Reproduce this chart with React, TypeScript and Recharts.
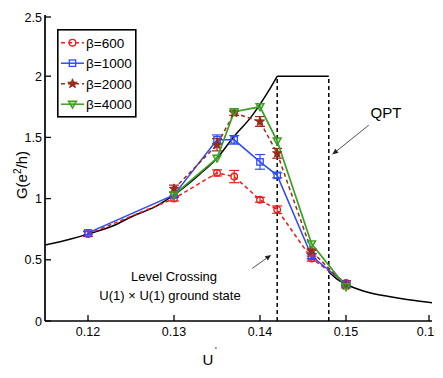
import React from 'react';
import {
  ComposedChart,
  Line,
  XAxis,
  YAxis,
  ErrorBar,
  ReferenceLine,
  Legend,
  Customized,
} from 'recharts';

// ---- data ----
const U_600 = [0.12, 0.13, 0.135, 0.137, 0.14, 0.142, 0.146, 0.15];
const G_600 = [0.71, 1.0, 1.21, 1.18, 0.99, 0.91, 0.51, 0.31];
const E_600 = [0.02, 0.02, 0.025, 0.05, 0.02, 0.03, 0.02, 0.02];

const U_1000 = [0.12, 0.13, 0.135, 0.137, 0.14, 0.142, 0.146, 0.15];
const G_1000 = [0.72, 1.03, 1.48, 1.48, 1.3, 1.19, 0.53, 0.3];
const E_1000 = [0.015, 0.02, 0.04, 0.035, 0.06, 0.02, 0.02, 0.02];

const U_2000 = [0.13, 0.135, 0.137, 0.14, 0.142, 0.146, 0.15];
const G_2000 = [1.08, 1.44, 1.7, 1.63, 1.37, 0.57, 0.29];
const E_2000 = [0.03, 0.05, 0.02, 0.04, 0.04, 0.02, 0.02];

const U_4000 = [0.13, 0.135, 0.137, 0.14, 0.142, 0.146, 0.15];
const G_4000 = [1.03, 1.33, 1.71, 1.75, 1.47, 0.63, 0.28];

const U_THEORY_L = [0.115, 0.118, 0.12, 0.123, 0.125, 0.128, 0.13, 0.133, 0.135, 0.137, 0.139, 0.14, 0.141, 0.142];
const G_THEORY_L = [0.62, 0.67, 0.71, 0.78, 0.85, 0.94, 1.03, 1.2, 1.33, 1.51, 1.67, 1.77, 1.88, 2.0];
const U_PLATEAU = [0.142, 0.148];
const G_PLATEAU = [2.0, 2.0];
const U_THEORY_R = [0.148, 0.149, 0.15, 0.152, 0.154, 0.156, 0.158, 0.16];
const G_THEORY_R = [0.4, 0.34, 0.3, 0.245, 0.212, 0.188, 0.167, 0.15];

const X_TICKS = [0.12, 0.13, 0.14, 0.15, 0.16];
const Y_TICKS = [0, 0.5, 1, 1.5, 2, 2.5];
const CROSSINGS = [0.142, 0.148];

const LEGEND_LABELS = ['β=600', 'β=1000', 'β=2000', 'β=4000'];

const toData = (u: number[], g: number[], e?: number[]) =>
  u.map((x, i) => ({ u: x, g: g[i], e: e ? e[i] : 0 }));

const d600 = toData(U_600, G_600, E_600);
const d1000 = toData(U_1000, G_1000, E_1000);
const d2000 = toData(U_2000, G_2000, E_2000);
const d4000 = toData(U_4000, G_4000);
const dTL = toData(U_THEORY_L, G_THEORY_L);
const dPl = toData(U_PLATEAU, G_PLATEAU);
const dTR = toData(U_THEORY_R, G_THEORY_R);

const FONT = '"Liberation Sans", Arial, Helvetica, sans-serif';
const RED = '#f21a1a';
const BLUE = '#2f4cf5';
const BROWN = '#9a2a1a';
const GREEN = '#3aa023';

// ---- markers ----
const circleMark = (cx: number, cy: number, c: string, k?: any) => (
  <circle key={k} cx={cx} cy={cy} r={3.3} fill="none" stroke={c} strokeWidth={1.3} />
);
const squareMark = (cx: number, cy: number, c: string, k?: any) => (
  <rect key={k} x={cx - 3.2} y={cy - 3.2} width={6.4} height={6.4} fill="none" stroke={c} strokeWidth={1.3} />
);
const starPts = (cx: number, cy: number, R: number, r: number) => {
  const pts: string[] = [];
  for (let i = 0; i < 10; i++) {
    const a = -Math.PI / 2 + (i * Math.PI) / 5;
    const rad = i % 2 === 0 ? R : r;
    pts.push(`${cx + rad * Math.cos(a)},${cy + rad * Math.sin(a)}`);
  }
  return pts.join(' ');
};
const starMark = (cx: number, cy: number, c: string, k?: any) => (
  <polygon key={k} points={starPts(cx, cy, 5, 2.2)} fill={c} stroke={c} strokeWidth={0.8} />
);
const triMark = (cx: number, cy: number, c: string, k?: any) => (
  <polygon
    key={k}
    points={`${cx - 4},${cy - 3} ${cx + 4},${cy - 3} ${cx},${cy + 4}`}
    fill={c}
    fillOpacity={0.35}
    stroke={c}
    strokeWidth={1.4}
  />
);

const dotFn = (mark: any, c: string) => (p: any) => {
  if (p.cx == null || p.cy == null) return <g key={p.index} />;
  return mark(p.cx, p.cy, c, p.index);
};

// ---- ticks ----
const TICK = 6;
const BottomTick = (p: any) => (
  <g>
    <line x1={p.x} y1={p.y} x2={p.x} y2={p.y - TICK} stroke="#000" strokeWidth={1.3} />
    <text x={p.x} y={p.y + 15} textAnchor="middle" fontSize={12.5} fontFamily={FONT} fill="#000">
      {String(p.payload.value)}
    </text>
  </g>
);
const TopTick = (p: any) => (
  <line x1={p.x} y1={p.y} x2={p.x} y2={p.y + TICK} stroke="#000" strokeWidth={1.3} />
);
const LeftTick = (p: any) => (
  <g>
    <line x1={p.x} y1={p.y} x2={p.x + TICK} y2={p.y} stroke="#000" strokeWidth={1.3} />
    <text x={p.x - 3} y={p.y + 4.5} textAnchor="end" fontSize={12.5} fontFamily={FONT} fill="#000">
      {String(p.payload.value)}
    </text>
  </g>
);
const RightTick = (p: any) => (
  <line x1={p.x} y1={p.y} x2={p.x - TICK} y2={p.y} stroke="#000" strokeWidth={1.3} />
);

// ---- arrow shape for annotation segments ----
const ArrowShape = (p: any) => {
  const { x1, y1, x2, y2 } = p;
  const a = Math.atan2(y2 - y1, x2 - x1);
  const L = 6;
  const W = 2.6;
  const bx = x2 - L * Math.cos(a);
  const by = y2 - L * Math.sin(a);
  const px = -Math.sin(a) * W;
  const py = Math.cos(a) * W;
  return (
    <g>
      <line x1={x1} y1={y1} x2={bx} y2={by} stroke="#222" strokeWidth={0.8} />
      <polygon points={`${x2},${y2} ${bx + px},${by + py} ${bx - px},${by - py}`} fill="#222" />
    </g>
  );
};

// ---- legend ----
const legendItems = [
  { label: LEGEND_LABELS[0], color: RED, dash: '4 3', mark: circleMark },
  { label: LEGEND_LABELS[1], color: BLUE, dash: undefined, mark: squareMark },
  { label: LEGEND_LABELS[2], color: BROWN, dash: '4 3', mark: starMark },
  { label: LEGEND_LABELS[3], color: GREEN, dash: undefined, mark: triMark },
];

const LegendBox = () => (
  <svg width={80} height={89} style={{ display: 'block' }}>
    <rect x={0.8} y={0.8} width={78} height={87} fill="#fff" stroke="#000" strokeWidth={1.6} />
    {legendItems.map((it, i) => {
      const y = 13.7 + i * 20.5;
      return (
        <g key={it.label}>
          <line x1={4} y1={y} x2={27} y2={y} stroke={it.color} strokeWidth={1.5} strokeDasharray={it.dash} />
          {it.mark(15.5, y, it.color)}
          <text x={29} y={y + 5} fontSize={13.5} fontFamily={FONT} fill="#000">
            {it.label}
          </text>
        </g>
      );
    })}
  </svg>
);

// annotation text positions (chart pixel coords, page offset of 8px removed)
const Annotations = () => (
  <g fontFamily={FONT} fill="#000">
    <text transform="translate(19,167) rotate(-90)" textAnchor="middle" fontSize={15}>
      G(e<tspan dy={-6} fontSize={10}>2</tspan>
      <tspan dy={6}>/h)</tspan>
    </text>
    <text x={200} y={357} textAnchor="middle" fontSize={15}>
      U
    </text>
    <text x={207} y={345} fontSize={9}>
      '
    </text>
    <text x={378} y={110} textAnchor="middle" fontSize={15}>
      QPT
    </text>
    <text x={166} y={273} textAnchor="middle" fontSize={13}>
      Level Crossing
    </text>
    <text x={162} y={292} textAnchor="middle" fontSize={13}>
      U(1) × U(1) ground state
    </text>
  </g>
);

export default function App() {
  return (
    <ComposedChart
      width={435}
      height={370}
      margin={{ top: 7, right: 11, bottom: 0, left: 0 }}
      style={{ background: '#fff' }}
    >
      <XAxis
        xAxisId={0}
        dataKey="u"
        type="number"
        domain={[0.115, 0.16]}
        ticks={X_TICKS}
        allowDataOverflow
        height={57}
        tickSize={0}
        tickMargin={0}
        tick={BottomTick}
        axisLine={{ stroke: '#000', strokeWidth: 1.7 }}
        tickLine={false}
      />
      <XAxis
        xAxisId="top"
        orientation="top"
        dataKey="u"
        type="number"
        domain={[0.115, 0.16]}
        ticks={X_TICKS}
        allowDataOverflow
        height={0}
        tickSize={0}
        tickMargin={0}
        tick={TopTick}
        axisLine={{ stroke: '#000', strokeWidth: 1.7 }}
        tickLine={false}
      />
      <YAxis
        yAxisId={0}
        type="number"
        domain={[0, 2.5]}
        ticks={Y_TICKS}
        allowDataOverflow
        width={37}
        tickSize={0}
        tickMargin={0}
        tick={LeftTick}
        axisLine={{ stroke: '#000', strokeWidth: 1.7 }}
        tickLine={false}
      />
      <YAxis
        yAxisId="right"
        orientation="right"
        type="number"
        domain={[0, 2.5]}
        ticks={Y_TICKS}
        allowDataOverflow
        width={0}
        tickSize={0}
        tickMargin={0}
        tick={RightTick}
        axisLine={{ stroke: '#000', strokeWidth: 1.7 }}
        tickLine={false}
      />

      {CROSSINGS.map((u) => (
        <ReferenceLine
          key={u}
          segment={[
            { x: u, y: 0 },
            { x: u, y: 2 },
          ]}
          stroke="#000"
          strokeWidth={1.5}
          strokeDasharray="4 3"
        />
      ))}
      <ReferenceLine
        segment={[
          { x: 0.1391, y: 0.43 },
          { x: 0.1413, y: 0.54 },
        ]}
        shape={ArrowShape}
      />
      <ReferenceLine
        segment={[
          { x: 0.15265, y: 1.6 },
          { x: 0.1484, y: 1.36 },
        ]}
        shape={ArrowShape}
      />

      <Line data={dTL} dataKey="g" type="monotone" stroke="#000" strokeWidth={1.5} dot={false} isAnimationActive={false} legendType="none" />
      <Line data={dPl} dataKey="g" type="linear" stroke="#000" strokeWidth={1.5} dot={false} isAnimationActive={false} legendType="none" />
      <Line data={dTR} dataKey="g" type="monotone" stroke="#000" strokeWidth={1.5} dot={false} isAnimationActive={false} legendType="none" />

      <Line
        data={d600}
        dataKey="g"
        name={LEGEND_LABELS[0]}
        stroke={RED}
        strokeWidth={1.5}
        strokeDasharray="4 3"
        dot={dotFn(circleMark, RED)}
        isAnimationActive={false}
      >
        <ErrorBar dataKey="e" direction="y" width={5} stroke={RED} strokeWidth={1.2} isAnimationActive={false} />
      </Line>
      <Line
        data={d1000}
        dataKey="g"
        name={LEGEND_LABELS[1]}
        stroke={BLUE}
        strokeWidth={1.5}
        dot={dotFn(squareMark, BLUE)}
        isAnimationActive={false}
      >
        <ErrorBar dataKey="e" direction="y" width={5} stroke={BLUE} strokeWidth={1.2} isAnimationActive={false} />
      </Line>
      <Line
        data={d2000}
        dataKey="g"
        name={LEGEND_LABELS[2]}
        stroke={BROWN}
        strokeWidth={1.5}
        strokeDasharray="4 3"
        dot={dotFn(starMark, BROWN)}
        isAnimationActive={false}
      >
        <ErrorBar dataKey="e" direction="y" width={5} stroke={BROWN} strokeWidth={1.2} isAnimationActive={false} />
      </Line>
      <Line
        data={d4000}
        dataKey="g"
        name={LEGEND_LABELS[3]}
        stroke={GREEN}
        strokeWidth={1.7}
        dot={dotFn(triMark, GREEN)}
        isAnimationActive={false}
      />

      <Legend
        layout="vertical"
        align="center"
        verticalAlign="middle"
        content={LegendBox}
        wrapperStyle={{ left: 49, top: 21, width: 80, height: 89 }}
      />
      <Customized component={Annotations} />
    </ComposedChart>
  );
}
